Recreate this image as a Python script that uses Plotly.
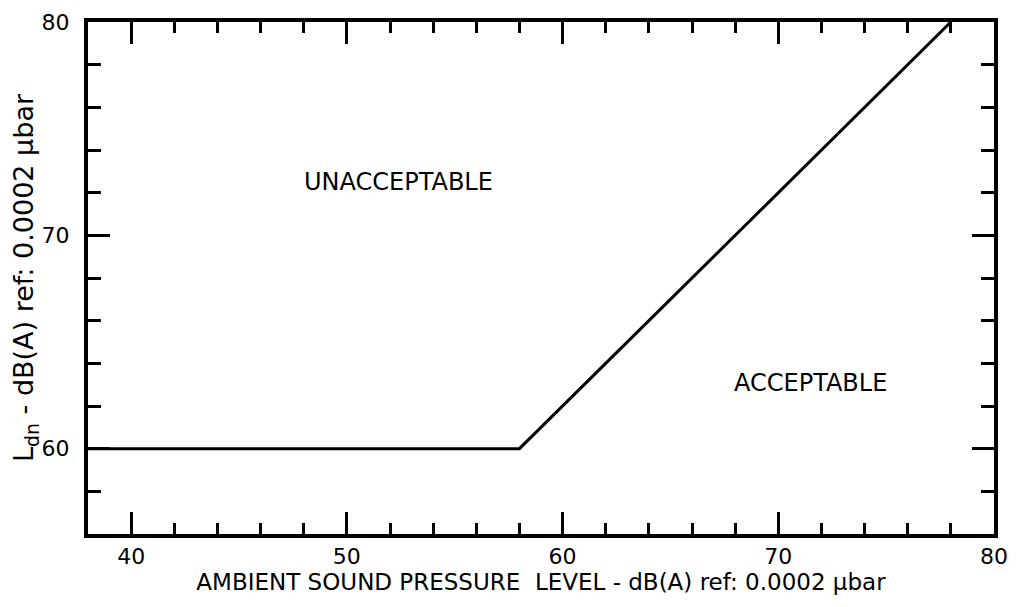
import plotly.graph_objects as go

# Criterion line: Ldn vs ambient sound pressure level
ambient_level = [38, 58, 78]
ldn_limit = [60, 60, 80]

x_ticks = [40, 50, 60, 70, 80]
y_ticks = [60, 70, 80]

region_labels = ["UNACCEPTABLE", "ACCEPTABLE"]
region_x = [52.4, 71.5]
region_y = [72.5, 63.1]

FONT = "DejaVu Sans"

fig = go.Figure()
fig.add_trace(go.Scatter(x=ambient_level, y=ldn_limit, mode="lines",
                         line=dict(color="black", width=3), showlegend=False,
                         hoverinfo="skip"))

for t, x, y in zip(region_labels, region_x, region_y):
    fig.add_annotation(x=x, y=y, text=t, showarrow=False,
                       font=dict(family=FONT, size=24, color="black"))

fig.update_xaxes(range=[38, 80], tickvals=x_ticks, ticks="inside", ticklen=22,
                 tickwidth=3, tickcolor="black", showline=True, linecolor="black",
                 linewidth=4, mirror="allticks", showgrid=False, zeroline=False,
                 automargin=False, ticklabeloverflow="allow",
                 minor=dict(dtick=2, tick0=0, ticks="inside", ticklen=11, tickwidth=3,
                            tickcolor="black", showgrid=False),
                 tickfont=dict(family=FONT, size=22, color="black"),
                 title=dict(text="AMBIENT SOUND PRESSURE  LEVEL - dB(A) ref: 0.0002 μbar",
                            font=dict(family=FONT, size=23, color="black"), standoff=2))
fig.update_yaxes(range=[56, 80], tickvals=y_ticks, ticks="inside", ticklen=22,
                 tickwidth=3, tickcolor="black", showline=True, linecolor="black",
                 linewidth=4, mirror="allticks", showgrid=False, zeroline=False,
                 automargin=False, ticklabelstandoff=10, ticklabeloverflow="allow",
                 minor=dict(dtick=2, tick0=0, ticks="inside", ticklen=13, tickwidth=3,
                            tickcolor="black", showgrid=False),
                 tickfont=dict(family=FONT, size=22, color="black"),
                 title=dict(text="L<sub>dn</sub> - dB(A) ref: 0.0002 μbar",
                            font=dict(family=FONT, size=27, color="black"), standoff=4))

fig.update_layout(width=1018, height=607, plot_bgcolor="white", paper_bgcolor="white",
                  margin=dict(l=80, r=32, t=14, b=81))

fig.write_html("out.html")
